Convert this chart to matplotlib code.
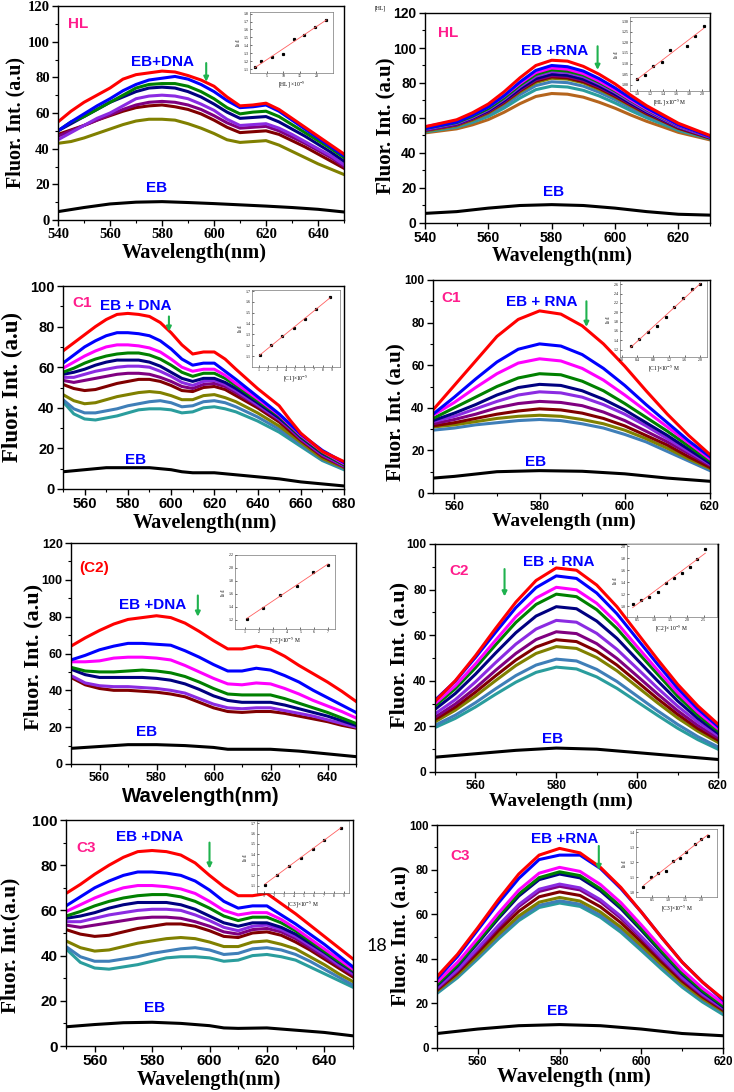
"""Fluorescence quenching of EB-DNA / EB-RNA by HL, C1, C2 and C3 (eight panels)."""

import matplotlib

matplotlib.use("Agg")
import matplotlib.pyplot as plt  # noqa: E402
import numpy as np  # noqa: E402
from matplotlib.ticker import AutoMinorLocator  # noqa: E402

W, H = 734, 1092
SERIF = "Liberation Serif"
SANS = "Liberation Sans"
plt.rcParams["mathtext.fontset"] = "stix"

RED, BLUE, MAG, GREEN = "#ff0000", "#0000ff", "#ff00ff", "#008000"
NAVY, VIOLET, PURPLE, WINE = "#000080", "#8b2be2", "#800080", "#800000"
OLIVE, STEEL, TEAL, BROWN = "#808000", "#3f7fb8", "#2a9d9d", "#b5651d"
PINK, ARROW = "#ff1c8c", "#1fb24e"

# ---------------- HL + DNA ----------------
HL_DNA_WL = list(range(540, 651, 5))
HL_DNA = [
    [55, 61, 66, 70, 74, 79, 81.5, 82.5, 83.5, 83, 81, 78.5, 75, 69, 64, 64.5, 65.5, 62, 57, 52, 47, 42, 37],
    [50, 55, 59.5, 64, 68, 72.5, 76, 78.5, 79.5, 80.5, 79, 76, 72, 67, 63, 63.5, 64.5, 61, 56, 51, 46, 41, 36],
    [50, 55, 58, 62, 66, 70, 74, 76, 76.5, 76.5, 75, 72, 68, 63, 59.5, 60.5, 61, 58, 53.5, 49, 44.5, 40, 35],
    [50, 54, 58, 62, 66, 69, 72, 74, 74.5, 74, 72, 69, 65, 60.5, 57, 57.5, 58, 55, 51, 47, 42.5, 38, 33],
    [45, 49, 53, 57, 60, 64, 68, 69.5, 70, 69.5, 68, 65, 61.5, 56.5, 53, 53.5, 54, 51.5, 48, 44, 40, 36, 31],
    [47, 50, 53, 56, 59, 62, 64.5, 66, 66.5, 66, 64.5, 62, 58.5, 54.5, 51.5, 52, 52.5, 50, 46.5, 43, 39, 35, 30],
    [48, 50.5, 53, 56, 58.5, 61, 63, 64, 64.5, 63.5, 62, 59.5, 56, 52, 49, 49.5, 50, 48, 44.5, 41, 37, 33, 29],
    [43, 44, 46, 48.5, 51, 53.5, 55.5, 56.5, 56.5, 56, 54, 51.5, 48.5, 45, 43.5, 44, 44.5, 42, 38.5, 35, 31.5, 28.5, 25.5],
]
HL_DNA_COLORS = [RED, BLUE, GREEN, NAVY, VIOLET, PURPLE, WINE, OLIVE]
HL_DNA_EB_WL = [540, 550, 560, 570, 580, 590, 600, 610, 620, 630, 640, 650]
HL_DNA_EB = [4.7, 7, 9, 10, 10.3, 9.8, 9.2, 8.5, 7.8, 7, 6, 4.5]
HL_DNA_IN_X = [1.5, 3.2, 6.7, 10, 13.2, 16.2, 19.5, 23]
HL_DNA_IN_Y = [1.12, 1.2, 1.25, 1.29, 1.48, 1.53, 1.63, 1.72]

# ---------------- HL + RNA ----------------
HL_RNA_WL = [540, 550, 555, 560, 565, 570, 575, 580, 585, 590, 595, 600, 605, 610, 615, 620, 630]
HL_RNA = [
    [55, 59, 63, 68, 75, 83, 90, 93, 92.5, 89.5, 85, 79.5, 73, 67, 62, 57, 50],
    [54, 57.7, 61.6, 66.3, 72.8, 80.6, 87.2, 90, 89.3, 86.8, 82.5, 77.2, 71.3, 65.7, 60.9, 56.1, 49.5],
    [55, 58.4, 62, 66.4, 72.6, 79.8, 86, 88.6, 87.9, 85.4, 81.1, 76.1, 70.4, 65.1, 60.5, 55.9, 49.5],
    [54, 57.4, 61, 65.4, 71.5, 78.8, 84.9, 87.5, 86.8, 84.5, 80.4, 75.5, 70, 64.7, 60.2, 55.7, 49.5],
    [53.5, 56.9, 60.4, 64.8, 70.8, 77.9, 83.9, 86.5, 85.9, 83.6, 79.5, 74.7, 69.2, 64, 59.6, 55.1, 49],
    [53.5, 56.7, 60.1, 64.2, 70, 76.8, 82.5, 85, 84.4, 82.2, 78.3, 73.6, 68.4, 63.4, 59.2, 54.9, 49],
    [53, 56.2, 59.6, 63.7, 69.4, 76.1, 81.8, 84.2, 83.7, 81.5, 77.7, 73.1, 67.9, 63.1, 58.9, 54.7, 49],
    [53, 56.1, 59.4, 63.4, 68.9, 75.6, 81.1, 83.5, 82.9, 80.7, 77, 72.4, 67.4, 62.5, 58.4, 54.2, 48.5],
    [52.5, 55.6, 58.8, 62.8, 68.4, 74.9, 80.3, 82.7, 82.2, 80.1, 76.3, 71.9, 66.9, 62.2, 58.2, 54, 48.5],
    [52.5, 55.4, 58.4, 62.1, 67.3, 73.4, 78.5, 80.7, 80.2, 78.2, 74.7, 70.5, 65.8, 61.4, 57.6, 53.7, 48.5],
    [52, 54.7, 57.5, 60.9, 65.7, 71.4, 76.2, 78.2, 77.7, 75.8, 72.6, 68.6, 64.2, 60.1, 56.5, 52.9, 48],
    [51.5, 53.8, 56.1, 59.1, 63.3, 68.2, 72.3, 74, 73.6, 71.9, 69, 65.6, 61.7, 58.1, 55, 51.8, 47.5],
]
HL_RNA_COLORS = [RED, BLUE, MAG, GREEN, VIOLET, NAVY, PURPLE, WINE, OLIVE, STEEL, TEAL, BROWN]
HL_RNA_EB_WL = [540, 550, 560, 570, 580, 590, 600, 610, 620, 630]
HL_RNA_EB = [5.5, 6.5, 8.5, 10, 10.5, 10, 8.5, 6.5, 5, 4.5]
HL_RNA_IN_X = [1.0, 1.13, 1.25, 1.38, 1.51, 1.76, 1.88, 2.02]
HL_RNA_IN_Y = [1.026, 1.047, 1.089, 1.107, 1.163, 1.184, 1.229, 1.278]

# ---------------- C1 + DNA ----------------
C1_DNA_WL = list(range(550, 631, 5)) + [640, 650, 655, 660, 670, 680]
C1_DNA = [
    [68, 72, 76, 80, 83.5, 86, 86.5, 86, 85, 82, 77, 71, 66.5, 67.5, 67.5, 64, 59, 49.5, 41, 34, 27.5, 18.5, 13.5],
    [62, 66, 70, 73, 75.5, 77, 77, 76.5, 75.5, 73, 69, 64, 61, 62, 62, 58, 54, 45.5, 37, 32, 27, 19, 13],
    [59.5, 62.5, 65.5, 68, 70, 71, 71, 70.5, 69.5, 67.5, 64, 60, 58, 59, 59, 56, 52, 44.5, 36.5, 31.5, 26.5, 18.5, 12.5],
    [57.5, 59.5, 62, 64, 65.5, 66.5, 67, 67, 66, 64, 61, 57.5, 55.5, 57, 57, 54.5, 51, 43.5, 36, 31, 26, 18, 12],
    [56.5, 57.5, 59, 61, 62.5, 63.5, 63.5, 63.5, 62.5, 60.5, 57.5, 54.5, 53, 54.5, 54.5, 52.5, 49.5, 42.5, 35, 30.5, 25.5, 17.5, 12],
    [55, 55, 56.5, 58, 59, 60, 60.5, 60.5, 60, 58, 55.5, 52.5, 51, 53, 53.5, 51.5, 48.5, 41.5, 34.5, 30, 25, 17, 11.5],
    [53.5, 52.5, 53.5, 54.5, 55.5, 56.5, 57, 57, 56.5, 55, 53, 50.5, 49.5, 51.5, 52, 50.5, 47.5, 41, 34, 29.5, 24.5, 16.5, 11],
    [51.5, 49.5, 48.5, 49, 50.5, 52, 53, 54, 54, 53, 51, 48.5, 48, 50, 50.5, 49, 46, 40, 33, 28.5, 24, 16, 11],
    [46.5, 43.5, 42, 42.5, 44, 45.5, 46.5, 47.5, 48, 47.5, 46, 44, 44, 46, 46.5, 45, 43, 37.5, 31, 27, 23, 15, 10.5],
    [44, 39.5, 37.5, 37.5, 38.5, 39.5, 41, 42, 43, 43.5, 42.5, 40.5, 41, 43, 43.5, 42.5, 40.5, 35.5, 29.5, 25.5, 22, 14.5, 10],
    [43, 37, 34.5, 34, 35, 36, 37.5, 39, 39.5, 39.5, 39, 37.5, 38, 40, 40.5, 39.5, 38, 33.5, 28, 24.5, 21, 14, 9.5],
]
C1_DNA_COLORS = [RED, BLUE, MAG, GREEN, NAVY, VIOLET, PURPLE, WINE, OLIVE, STEEL, TEAL]
C1_DNA_EB_WL = [550, 560, 570, 580, 590, 600, 605, 610, 620, 630, 640, 650, 660, 670, 680]
C1_DNA_EB = [8.5, 9.5, 10.5, 10.5, 10.5, 9.5, 8.5, 8, 8, 7, 6, 5, 3.5, 2.5, 1.5]
C1_DNA_IN_X = [1.1, 2.4, 3.6, 4.85, 6.1, 7.3, 8.8]
C1_DNA_IN_Y = [1.11, 1.2, 1.285, 1.36, 1.44, 1.535, 1.645]

# ---------------- C1 + RNA ----------------
C1_RNA_WL = list(range(555, 621, 5))
C1_RNA = [
    [39, 50.5, 62, 73.5, 81.5, 85.5, 84, 78.5, 70, 59.5, 48, 37, 27, 18],
    [37, 45, 53.5, 61.5, 67.5, 70, 69, 65, 58.5, 50.5, 41.5, 33, 24.5, 17],
    [36.5, 42.5, 49.5, 56, 61, 63, 62, 58.5, 53, 46, 38.5, 31, 23.5, 16],
    [35, 40, 45, 50, 54, 56, 55.5, 52.5, 48, 42, 35.5, 29, 22, 15],
    [34, 37.5, 41.5, 46, 49.5, 51, 50.5, 48, 44, 39, 33, 27, 20.5, 14],
    [33.5, 36, 39.5, 43, 46, 47.5, 47, 45, 41.5, 37, 31.5, 25.5, 19.5, 13.5],
    [32.5, 34.5, 37, 40, 42, 43, 42.5, 41, 38, 34, 29, 24, 18.5, 13],
    [31.5, 33, 35, 37, 38.5, 39.5, 39, 37.5, 35, 31.5, 27, 22.5, 17, 12],
    [31, 32, 33.5, 35, 36, 36.5, 36, 34.5, 32.5, 29.5, 25.5, 21, 16, 11.5],
    [29.5, 30.5, 32, 33, 34, 34.5, 34, 32.5, 30.5, 27.5, 24, 19.5, 15, 10.5],
]
C1_RNA_COLORS = [RED, BLUE, MAG, GREEN, NAVY, VIOLET, PURPLE, WINE, OLIVE, STEEL]
C1_RNA_EB_WL = [555, 560, 570, 580, 590, 600, 610, 620]
C1_RNA_EB = [7, 7.8, 10, 10.5, 10.2, 9, 7, 5.5]
C1_RNA_IN_X = [0.23, 0.45, 0.68, 0.91, 1.13, 1.33, 1.57, 1.79, 2.0]
C1_RNA_IN_Y = [1.285, 1.43, 1.58, 1.71, 1.89, 2.12, 2.3, 2.49, 2.6]

# ---------------- C2 + DNA ----------------
C2_DNA_WL = list(range(550, 651, 5))
C2_DNA = [
    [64, 68.5, 72.5, 76, 78.5, 79.5, 80.5, 79.5, 76.5, 72, 67, 62.5, 62.5, 64, 62.5, 58.5, 53.5, 49, 44.5, 39.5, 34],
    [56.5, 59, 62, 64, 65.5, 65.5, 65, 64.5, 61.5, 58, 54, 50.5, 50.5, 52, 51, 48, 44.5, 40, 36, 32, 28],
    [55.5, 55.5, 56, 57.5, 58, 58, 57.5, 56.5, 53.5, 50, 46.5, 43.5, 43, 44, 43.5, 41, 38, 34.5, 31.5, 28.5, 25],
    [52.5, 50.5, 50, 50, 50.5, 51, 50.5, 49.5, 47.5, 44.5, 41, 38, 37.5, 37.5, 37.5, 35.5, 33, 30.5, 28, 25, 22],
    [51.5, 48.5, 47, 47, 47, 47, 46.5, 45.5, 43.5, 40.5, 37, 34.5, 33.5, 33.5, 33.5, 32, 30, 28, 26, 23.5, 21],
    [48, 44, 42.5, 42, 42, 41.5, 41, 40, 38.5, 35.5, 32.5, 30.5, 30, 30.5, 30.5, 29, 27.5, 26, 24, 22, 20],
    [47, 43, 41, 40, 40, 39.5, 39, 38, 36.5, 33.5, 30.5, 28.5, 28, 28.5, 28.5, 27.5, 26, 24.5, 23, 21, 19.5],
]
C2_DNA_COLORS = [RED, BLUE, MAG, GREEN, NAVY, VIOLET, WINE]
C2_DNA_EB_WL = [550, 560, 570, 580, 590, 600, 605, 610, 620, 630, 640, 650]
C2_DNA_EB = [8.5, 9.5, 10.5, 10.5, 10, 9, 8, 8, 8, 7, 5.5, 4]
C2_DNA_IN_X = [1.15, 2.35, 3.55, 4.75, 5.9, 7.0]
C2_DNA_IN_Y = [1.22, 1.39, 1.58, 1.72, 1.94, 2.04]

# ---------------- C2 + RNA ----------------
C2_RNA_WL = list(range(550, 621, 5))
C2_RNA = [
    [31, 40, 51, 63, 74.5, 84, 89.5, 88.5, 82, 72.5, 61, 49.5, 38.5, 29, 21],
    [31.5, 39.8, 50.2, 61.3, 72.1, 80.9, 86, 84.9, 78.5, 69.4, 58.4, 47.4, 36.8, 27.7, 20],
    [30, 37.8, 47.4, 57.8, 68.1, 76.3, 81, 79.9, 74, 65.4, 55, 44.8, 34.9, 26.3, 19],
    [29, 36.5, 45.7, 55.8, 65.6, 73.5, 78, 76.9, 71.2, 62.9, 52.8, 43, 33.3, 25, 18],
    [27.5, 34.4, 42.9, 52.2, 61.1, 68.4, 72.5, 71.6, 66.2, 58.6, 49.3, 40.1, 31.2, 23.5, 17],
    [25.5, 31.7, 39.5, 48, 56.1, 62.7, 66.5, 65.7, 60.8, 53.8, 45.4, 36.9, 28.9, 21.9, 16],
    [24, 29.8, 36.8, 44.6, 52, 58.1, 61.5, 60.7, 56.3, 49.8, 42.1, 34.3, 26.9, 20.4, 15],
    [23, 28.4, 35, 42.2, 49.1, 54.8, 58, 57.2, 53, 46.9, 39.6, 32.2, 25.3, 19.1, 14],
    [22, 27.1, 33.3, 40.1, 46.7, 52, 55, 54.2, 50.2, 44.4, 37.4, 30.4, 23.7, 17.9, 13],
    [20.5, 24.9, 30.4, 36.5, 42.3, 46.9, 49.5, 48.7, 45, 39.7, 33.3, 26.9, 20.9, 15.5, 11],
    [19.5, 23.5, 28.5, 34.1, 39.4, 43.7, 46, 45.2, 41.7, 36.7, 30.8, 24.9, 19.2, 14.2, 10],
]
C2_RNA_COLORS = [RED, BLUE, MAG, GREEN, NAVY, VIOLET, PURPLE, WINE, OLIVE, STEEL, TEAL]
C2_RNA_EB_WL = [550, 560, 570, 580, 590, 600, 610, 620]
C2_RNA_EB = [6.5, 8, 9.5, 10.5, 10, 8.5, 7, 5.5]
C2_RNA_IN_X = [0.37, 0.62, 0.87, 1.12, 1.37, 1.6, 1.85, 2.08, 2.3, 2.55]
C2_RNA_IN_Y = [1.04, 1.11, 1.15, 1.24, 1.38, 1.48, 1.56, 1.66, 1.79, 1.96]

# ---------------- C3 + DNA ----------------
C3_DNA_WL = list(range(550, 651, 5))
C3_DNA = [
    [67.5, 71.5, 76, 80, 83.5, 86, 86.5, 86, 84.5, 81, 75.5, 70.5, 66.5, 66.5, 67.5, 63, 58.5, 53.5, 48.5, 43.5, 38.5],
    [62, 66, 70, 73, 75.5, 77, 77, 76.5, 75.5, 73, 69, 64, 61, 62, 62, 58, 54, 49.5, 45, 40, 35],
    [59.5, 62.5, 65.5, 68, 70, 71, 71, 70.5, 69.5, 67.5, 64, 60, 58, 59, 59, 56, 52, 47.5, 43, 38.5, 34],
    [57.5, 59.5, 62, 64, 65.5, 66.5, 67, 67, 66, 64, 61, 57.5, 55.5, 57, 57, 54.5, 51, 46.5, 42, 37.5, 33.5],
    [56.5, 57.5, 59, 61, 62.5, 63.5, 63.5, 63.5, 62.5, 60.5, 57.5, 54.5, 53, 54.5, 54.5, 52.5, 49.5, 45.5, 41.5, 37, 33],
    [55, 55, 56.5, 58, 59, 60, 60.5, 60.5, 60, 58, 55.5, 52.5, 51, 53, 53.5, 51.5, 48.5, 44.5, 40.5, 36, 32],
    [53.5, 52.5, 53.5, 54.5, 55.5, 56.5, 57, 57, 56.5, 55, 53, 50.5, 49.5, 51.5, 52, 50.5, 47.5, 43.5, 39.5, 35.5, 31.5],
    [51.5, 49.5, 48.5, 49, 50.5, 52, 53, 54, 54, 53, 51, 48.5, 48, 50, 50.5, 49, 46, 42.5, 38.5, 34.5, 30.5],
    [46.5, 43.5, 42, 42.5, 44, 45.5, 46.5, 47.5, 48, 47.5, 46, 44, 44, 46, 46.5, 45, 43, 39.5, 36, 32, 28.5],
    [44, 39.5, 37.5, 37.5, 38.5, 39.5, 41, 42, 43, 43.5, 42.5, 40.5, 41, 43, 43.5, 42.5, 40.5, 37.5, 34, 30.5, 27],
    [43, 37, 34.5, 34, 35, 36, 37.5, 39, 39.5, 39.5, 39, 37.5, 38, 40, 40.5, 39.5, 38, 35, 32, 29, 26],
]
C3_DNA_COLORS = [RED, BLUE, MAG, GREEN, NAVY, VIOLET, PURPLE, WINE, OLIVE, STEEL, TEAL]
C3_DNA_EB_WL = [550, 560, 570, 580, 590, 600, 605, 610, 620, 630, 640, 650]
C3_DNA_EB = [8.5, 9.5, 10.3, 10.5, 10, 9, 8, 7.8, 8, 7, 6, 4.5]
C3_DNA_IN_X = [1.1, 2.3, 3.45, 4.65, 5.85, 7.0, 8.7]
C3_DNA_IN_Y = [1.11, 1.2, 1.29, 1.37, 1.45, 1.54, 1.65]

# ---------------- C3 + RNA ----------------
C3_RNA_WL = list(range(550, 621, 5))
C3_RNA = [
    [32, 42, 54, 66.5, 78, 86.5, 89.5, 87.5, 81, 72, 61, 49.5, 38.5, 29.5, 22],
    [31, 41, 53, 65, 76, 84.5, 86.5, 86.5, 80.5, 71.5, 61, 49.5, 38.5, 29.5, 21.5],
    [29.5, 38.4, 49.2, 60.4, 70.8, 78.4, 81, 79.2, 73.3, 65.2, 55.2, 44.9, 35, 26.8, 20],
    [28.5, 37.2, 47.8, 58.8, 69, 76.4, 79, 77.3, 71.4, 63.4, 53.6, 43.4, 33.7, 25.7, 19],
    [28, 36.7, 47.1, 58, 68.1, 75.5, 78, 76.3, 70.5, 62.5, 52.8, 42.7, 33.1, 25.2, 18.5],
    [27, 35.1, 44.8, 54.9, 64.3, 71.2, 73.5, 71.8, 66.5, 59.1, 50, 40.6, 31.6, 24.1, 18],
    [26.5, 34.5, 44.1, 54.1, 63.4, 70.2, 72.5, 70.9, 65.6, 58.2, 49.2, 39.9, 31, 23.6, 17.5],
    [26, 33.7, 42.9, 52.5, 61.3, 67.8, 70, 68.4, 63.3, 56.2, 47.6, 38.6, 30, 22.9, 17],
    [25.5, 32.8, 41.6, 50.8, 59.2, 65.4, 67.5, 65.9, 61, 54.2, 45.9, 37.3, 29, 22.1, 16.5],
    [25, 32.2, 40.7, 49.7, 57.9, 64, 66, 64.5, 59.6, 52.9, 44.8, 36.4, 28.3, 21.5, 16],
    [24.5, 31.5, 40, 48.9, 57.1, 63, 65, 63.5, 58.6, 51.9, 43.7, 35.3, 27.3, 20.6, 15],
]
C3_RNA_COLORS = [RED, BLUE, MAG, GREEN, NAVY, VIOLET, PURPLE, WINE, OLIVE, STEEL, TEAL]
C3_RNA_EB_WL = [550, 560, 570, 580, 590, 600, 610, 620]
C3_RNA_EB = [6.5, 8.5, 10, 10.5, 10, 8.5, 6.5, 5.5]
C3_RNA_IN_X = [0.23, 0.45, 0.69, 0.93, 1.14, 1.36, 1.55, 1.81, 2.01, 2.22]
C3_RNA_IN_Y = [1.033, 1.1, 1.131, 1.144, 1.211, 1.231, 1.267, 1.322, 1.356, 1.371]


fig = plt.figure(figsize=(W / 100, H / 100), dpi=100)


def box(x0, y0, x1, y1):
    """pixel box (top-left origin) -> figure fraction rect"""
    return [x0 / W, 1 - y1 / H, (x1 - x0) / W, (y1 - y0) / H]


def ftext(x, y, s, **kw):
    fig.text(x / W, 1 - y / H, s, ha="center", va="center", **kw)


def panel(rect, wl, curves, colors, eb_wl, eb, xlim, ylim, xticks, yticks,
          tick_font=SANS, tick_size=10):
    ax = fig.add_axes(box(*rect))
    for ys, c in reversed(list(zip(curves, colors))):
        ax.plot(wl, ys, color=c, lw=2.2, solid_joinstyle="round")
    ax.plot(eb_wl, eb, color="black", lw=2.2)
    ax.set_xlim(*xlim)
    ax.set_ylim(*ylim)
    ax.set_xticks(xticks)
    ax.set_yticks(yticks)
    ax.xaxis.set_minor_locator(AutoMinorLocator(2))
    ax.yaxis.set_minor_locator(AutoMinorLocator(2))
    ax.tick_params(which="major", direction="out", length=4, width=1, pad=2)
    ax.tick_params(which="minor", direction="out", length=2, width=0.8)
    for lab in ax.get_xticklabels() + ax.get_yticklabels():
        lab.set_fontfamily(tick_font)
        lab.set_fontweight("bold")
        lab.set_fontsize(tick_size)
    for sp in ax.spines.values():
        sp.set_linewidth(1)
    return ax


def inset(rect, xs, ys, xlim, ylim, xticks, yticks, xlabel):
    ax = fig.add_axes(box(*rect))
    ax.plot(xs, ys, "s", color="black", ms=1.3)
    k, b = np.polyfit(xs, ys, 1)
    fx = np.array([xs[0], xs[-1]])
    ax.plot(fx, k * fx + b, color="#ff6060", lw=0.6)
    ax.set_xlim(*xlim)
    ax.set_ylim(*ylim)
    ax.set_xticks(xticks)
    ax.set_yticks(yticks)
    ax.tick_params(direction="in", length=1.2, width=0.4, pad=1, labelsize=2.8)
    for lab in ax.get_xticklabels() + ax.get_yticklabels():
        lab.set_fontfamily(SERIF)
    ax.set_xlabel(xlabel, fontsize=4, family=SERIF, labelpad=0.5)
    ax.set_ylabel("I$_0$/I", fontsize=4, family=SERIF, labelpad=0.5)
    for sp in ax.spines.values():
        sp.set_linewidth(0.4)
        sp.set_color("#555555")
    return ax


def notes(ax, tag, tag_xy, tag_color, title, title_xy, arrow_x, arrow_y, eb_xy):
    ax.text(*tag_xy, tag, color=tag_color, family=SANS, weight="bold",
            fontsize=11, ha="left", va="center")
    ax.text(*title_xy, title, color=BLUE, family=SANS, weight="bold",
            fontsize=11, ha="center", va="center")
    ax.annotate("", xy=(arrow_x, arrow_y[1]), xytext=(arrow_x, arrow_y[0]),
                arrowprops=dict(arrowstyle="-|>", color=ARROW, lw=1.5,
                                mutation_scale=7, shrinkA=0, shrinkB=0))
    ax.text(*eb_xy, "EB", color=BLUE, family=SANS, weight="bold",
            fontsize=11, ha="center", va="center")


YT120 = list(range(0, 121, 20))
YT100 = list(range(0, 101, 20))

# HL DNA
ax = panel((58, 6, 344, 220), HL_DNA_WL, HL_DNA, HL_DNA_COLORS, HL_DNA_EB_WL, HL_DNA_EB,
           (540, 650), (0, 120), range(540, 641, 20), YT120, SERIF, 10.5)
notes(ax, "HL", (544, 110), PINK, "EB+DNA", (580, 88.5), 597, (88, 77.5), (578, 18))
inset((250, 12, 333, 73), HL_DNA_IN_X, HL_DNA_IN_Y, (0, 25), (1.05, 1.82),
      [5, 10, 15, 20], np.arange(1.1, 1.81, 0.1), "[HL] ×10$^{-5}$")
ftext(15, 123, "Fluor. Int. (a.u)", rotation=90, family=SERIF, weight="bold", fontsize=14.4)
ftext(194, 253, "Wavelength(nm)", family=SERIF, weight="bold", fontsize=14.7)

# HL RNA
ax = panel((425, 13, 710, 223), HL_RNA_WL, HL_RNA, HL_RNA_COLORS, HL_RNA_EB_WL, HL_RNA_EB,
           (540, 630), (0, 120), range(540, 621, 20), YT120, SANS, 10)
notes(ax, "HL", (544, 108.5), PINK, "EB +RNA", (581, 98.5), 594.5, (101, 87.5), (580.5, 17.5))
inset((630, 17, 709, 91), HL_RNA_IN_X, HL_RNA_IN_Y, (0.9, 2.1), (0.97, 1.32),
      [1.0, 1.2, 1.4, 1.6, 1.8, 2.0], [1.0, 1.05, 1.1, 1.15, 1.2, 1.25, 1.3], "[HL] x10$^{-5}$ M")
ftext(385, 126, "Fluor. Int. (a.u)", rotation=90, family=SERIF, weight="bold", fontsize=15)
ftext(562, 256, "Wavelength(nm)", family=SERIF, weight="bold", fontsize=14.3)
ftext(380, 8, "[HL]", family=SERIF, fontsize=4)

# C1 DNA
ax = panel((63, 286, 344, 489), C1_DNA_WL, C1_DNA, C1_DNA_COLORS, C1_DNA_EB_WL, C1_DNA_EB,
           (550, 680), (0, 100), range(560, 681, 20), YT100, SANS, 10.5)
notes(ax, "C1", (554.5, 91.5), PINK, "EB + DNA", (583.5, 90), 599, (85, 77.5), (583.5, 14.5))
inset((252, 290, 340, 367), C1_DNA_IN_X, C1_DNA_IN_Y, (0.27, 9.9), (1.0, 1.71),
      range(1, 10), [1.1, 1.2, 1.3, 1.4, 1.5, 1.6, 1.7], "[C1]×10$^{-5}$")
ftext(12, 387, "Fluor. Int. (a.u)", rotation=90, family=SERIF, weight="bold", fontsize=16.5)
ftext(205, 523, "Wavelength(nm)", family=SERIF, weight="bold", fontsize=14.6)

# C1 RNA
ax = panel((433, 280, 710, 493), C1_RNA_WL, C1_RNA, C1_RNA_COLORS, C1_RNA_EB_WL, C1_RNA_EB,
           (555, 620), (0, 100), range(560, 621, 20), YT100, SANS, 8.6)
notes(ax, "C1", (557, 91.5), PINK, "EB + RNA", (580.5, 89.5), 591, (90, 78), (579, 14.5))
inset((620, 281, 707, 357), C1_RNA_IN_X, C1_RNA_IN_Y, (-0.04, 2.17), (1.04, 2.67),
      [0.0, 0.4, 0.8, 1.2, 1.6, 2.0], [1.2, 1.4, 1.6, 1.8, 2.0, 2.2, 2.4, 2.6], "[C1]×10$^{-5}$ M")
ftext(395, 412, "Fluor. Int. (a.u)", rotation=90, family=SERIF, weight="bold", fontsize=15.2)
ftext(564, 521, "Wavelength (nm)", family=SERIF, weight="bold", fontsize=14)

# C2 DNA
ax = panel((71, 543, 356, 764), C2_DNA_WL, C2_DNA, C2_DNA_COLORS, C2_DNA_EB_WL, C2_DNA_EB,
           (550, 650), (0, 120), range(560, 641, 20), YT120, SANS, 9)
notes(ax, "(C2)", (553, 106.5), RED, "EB +DNA", (578.5, 86.5), 594.5, (91.5, 80), (576.5, 17.5))
inset((235, 555, 335, 629), C2_DNA_IN_X, C2_DNA_IN_Y, (0.3, 7.5), (1.06, 2.2),
      range(1, 8), [1.2, 1.4, 1.6, 1.8, 2.0, 2.2], "[C2]×10$^{-5}$ M")
ftext(33, 657, "Fluor. Int. (a.u)", rotation=90, family=SERIF, weight="bold", fontsize=16)
ftext(201, 797, "Wavelength(nm)", family=SANS, weight="bold", fontsize=14.7)

# C2 RNA
ax = panel((435, 544, 718, 772), C2_RNA_WL, C2_RNA, C2_RNA_COLORS, C2_RNA_EB_WL, C2_RNA_EB,
           (550, 620), (0, 100), range(560, 621, 20), YT100, SANS, 8.6)
notes(ax, "C2", (553.5, 88), PINK, "EB + RNA", (580.5, 92), 567.2, (89, 77), (579, 14.5))
inset((627, 544, 717, 617), C2_RNA_IN_X, C2_RNA_IN_Y, (0.2, 2.9), (0.82, 2.04),
      [0.5, 1.0, 1.5, 2.0, 2.5], [1.0, 1.2, 1.4, 1.6, 1.8, 2.0], "[C2]× 10$^{-5}$ M")
ftext(399, 655, "Fluor. Int. (a.u)", rotation=90, family=SERIF, weight="bold", fontsize=16)
ftext(561, 801, "Wavelength (nm)", family=SERIF, weight="bold", fontsize=14)

# C3 DNA
ax = panel((66, 820, 353, 1046), C3_DNA_WL, C3_DNA, C3_DNA_COLORS, C3_DNA_EB_WL, C3_DNA_EB,
           (550, 650), (0, 100), range(560, 641, 20), YT100, SANS, 11)
notes(ax, "C3", (553.7, 87.5), PINK, "EB +DNA", (579, 92.3), 600, (90, 78.5), (581, 16.7))
inset((257, 821, 349, 893), C3_DNA_IN_X, C3_DNA_IN_Y, (0.3, 9.5), (1.03, 1.72),
      range(1, 10), [1.1, 1.2, 1.3, 1.4, 1.5, 1.6, 1.7], "[C3]×10$^{-5}$ M")
ftext(10, 945, "Fluor. Int.(a.u)", rotation=90, family=SERIF, weight="bold", fontsize=15.4)
ftext(209, 1080, "Wavelength(nm)", family=SERIF, weight="bold", fontsize=14.6)

# C3 RNA
ax = panel((437, 825, 723, 1048), C3_RNA_WL, C3_RNA, C3_RNA_COLORS, C3_RNA_EB_WL, C3_RNA_EB,
           (550, 620), (0, 100), range(560, 621, 20), YT100, SANS, 8.4)
notes(ax, "C3", (553.3, 86), PINK, "EB +RNA", (581.2, 93.6), 589.6, (90.6, 79.8), (579.4, 16.7))
inset((636, 829, 717, 897), C3_RNA_IN_X, C3_RNA_IN_Y, (0.0, 2.5), (0.97, 1.42),
      [0.5, 1.0, 1.5, 2.0], [1.0, 1.1, 1.2, 1.3, 1.4], "[C3]×10$^{-5}$ M")
ftext(400, 936, "Fluor. Int. (a.u)", rotation=90, family=SERIF, weight="bold", fontsize=15.4)
ftext(574, 1077, "Wavelength (nm)", family=SERIF, weight="bold", fontsize=15)

ftext(377, 946, "18", family="Lato", fontsize=13)

fig.savefig("out.png", dpi=100)
